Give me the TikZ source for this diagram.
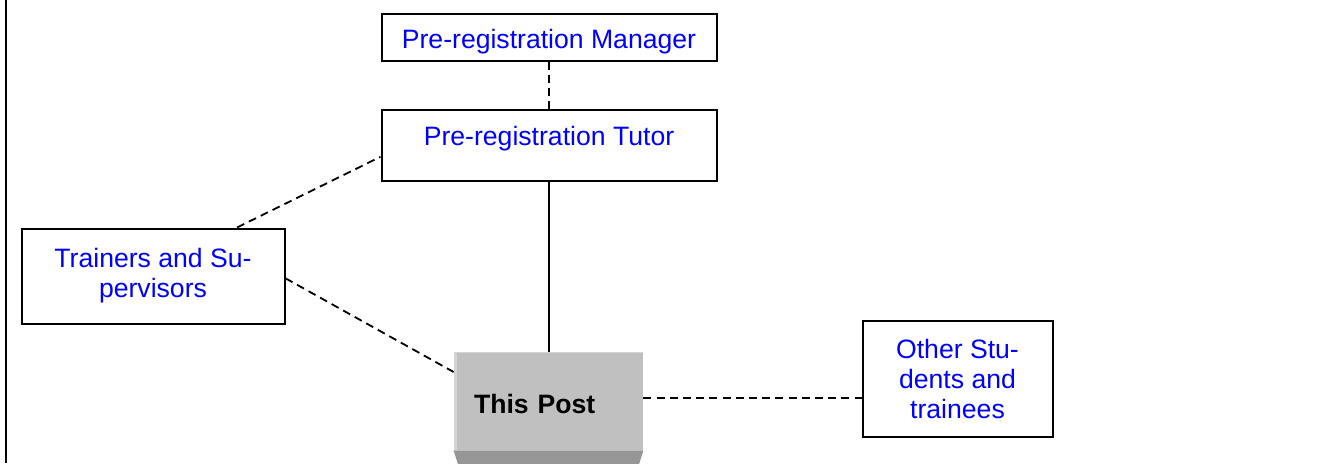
\documentclass[tikz,border=0pt]{standalone}
\usepackage{fontspec}
\setmainfont{Liberation Sans}
\usepackage{xcolor}
\usepackage{tikz}
\definecolor{postgray}{RGB}{192,192,192}
\definecolor{postdark}{RGB}{150,150,150}
\definecolor{postlight}{RGB}{212,212,212}
\tikzset{
  box/.style={draw, line width=1pt, fill=white, align=center, text=blue, font=\fontsize{13.3}{15}\selectfont, inner sep=2pt},
  postbox/.style={fill=postgray, align=left, font=\fontsize{13.3}{15}\selectfont\bfseries, inner xsep=10pt},
  lnk/.style={line width=0.9pt},
  dlnk/.style={lnk, dash pattern=on 4pt off 2.6pt},
}

\begin{document}
\begin{tikzpicture}[x=0.5pt, y=-0.5pt]
\useasboundingbox (0,0) rectangle (1334,463);
\clip (0,0) rectangle (1334,463);
\draw[line width=1pt] (6,0) -- (6,463);
\node[box, minimum width=167.5pt, minimum height=23.5pt, text height=14.7pt, text depth=2.8pt] (mgr) at (549,37) {Pre-registration Manager};
\node[box, minimum width=167.5pt, minimum height=35.5pt, text height=9.7pt, text depth=8.8pt] (tutor) at (549,145) {Pre-registration Tutor};
\node[box, minimum width=131.5pt, minimum height=47.5pt] (trainers) at (153,276) {Trainers and Su-\\pervisors};
\node[box, minimum width=95pt, minimum height=58pt] (other) at (957.5,378.5) {Other Stu-\\dents and\\trainees};
\node[postbox, minimum height=49pt, text width=74.5pt, text height=12.7pt, text depth=0pt] (post) at (548.5,401) {This Post};
% bevel of the post box
\fill[postlight] (post.north west) rectangle ([xshift=1.5pt]post.south west);
\fill[postlight] (post.north west) rectangle ([yshift=-0.6pt]post.north east);
\fill[postdark] (post.south west) -- (post.south east) -- ([xshift=-2.5pt,yshift=-8pt]post.south east) -- ([xshift=2.5pt,yshift=-8pt]post.south west) -- cycle;
\draw[dlnk] (mgr) -- (tutor);
\draw[lnk] (tutor.south) -- (tutor.south |- post.north);
\draw[dlnk] (trainers.30) -- (tutor.184);
\draw[dlnk] (trainers.-1) -- (post.163);
\draw[dlnk] (post.2) -- (post.2 -| other.west);
\end{tikzpicture}
\end{document}
